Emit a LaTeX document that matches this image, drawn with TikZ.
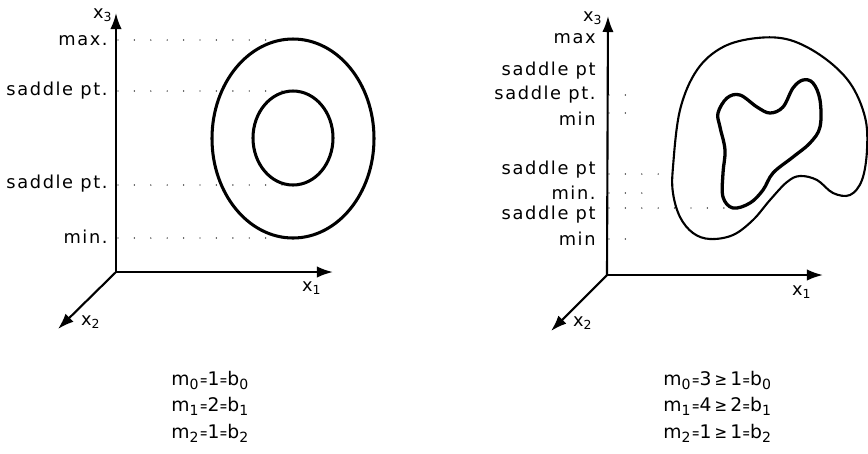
\documentclass[tikz,border=0pt]{standalone}
\usepackage{fontspec}
\setmainfont{DejaVu Sans}[LetterSpace=9]
\newfontfamily\eqfont{DejaVu Sans}[LetterSpace=-2]
\newcommand{\smeq}{\scalebox{0.5}[0.8]{=}}
\newcommand{\smge}{\scalebox{0.8}[0.9]{≥}}
\usetikzlibrary{arrows.meta, positioning}
\tikzset{
  every picture/.style={font=\fontsize{7.6}{9}\selectfont, line width=0.9pt},
  axis/.style={-{Latex[length=2.4mm, width=1.7mm]}, line width=0.9pt},
  lvl/.style={anchor=east, inner sep=1pt},
  contour/.style={line width=#1},
  contour/.default=1.3pt,
  guide/.style={line width=0.6pt, line cap=round, dash pattern=on 0pt off 7pt},
  eqn/.style={anchor=west, inner sep=1pt, font=\eqfont\fontsize{8}{9}\selectfont},
}
\begin{document}
\begin{tikzpicture}[x=0.015cm, y=-0.015cm]
  \useasboundingbox (0,0) rectangle (868,453);
  % left: torus standing on its rim
  \coordinate (O1) at (116,272);
  \coordinate (A1) at (333,272);
  \coordinate (A2) at (58,329);
  \coordinate (A3) at (116,13);
  \draw[axis] (O1) -- (A1);
  \draw[axis] (O1) -- (A2);
  \draw[axis] (O1) -- (A3);
  \node (x1L) at (312,288) {x\textsubscript{1}};
  \node (x2L) at (91,322) {x\textsubscript{2}};
  \node (x3L) at (103,15) {x\textsubscript{3}};
  \foreach \y/\t [count=\i] in {41/max., 91/saddle pt., 184/saddle pt., 237/min.}
    \node[lvl] (lL\i) at (111,\y) {\t};
  \draw[contour] (293,138.5) ellipse [x radius=81, y radius=99.5];
  \draw[contour] (293,138) ellipse [x radius=40, y radius=47];
  \foreach \y in {40,91,185,238}
    \draw[guide] (118,\y) -- (293,\y);
  \node[eqn] (mL0) at (168,380) {m\textsubscript{0}\smeq1\smeq b\textsubscript{0}};
  \node[eqn] (mL1) at (168,406) {m\textsubscript{1}\smeq2\smeq b\textsubscript{1}};
  \node[eqn] (mL2) at (168,433) {m\textsubscript{2}\smeq1\smeq b\textsubscript{2}};
  % right: deformed torus
  \coordinate (O2) at (607,275);
  \coordinate (B1) at (823,275);
  \coordinate (B2) at (551,331);
  \coordinate (B3) at (608,16);
  \draw[axis] (O2) -- (B1);
  \draw[axis] (O2) -- (B2);
  \draw[axis] (O2) -- (B3);
  \node (x1R) at (802,292) {x\textsubscript{1}};
  \node (x2R) at (583,323) {x\textsubscript{2}};
  \node (x3R) at (593,18) {x\textsubscript{3}};
  \foreach \y/\t [count=\i] in {39/max, 71/saddle pt, 95/saddle pt., 119/min,
                                170/saddle pt, 193/min., 215/saddle pt, 239/min}
    \node[lvl] (lR\i) at (599,\y) {\t};
  \draw[contour=0.9pt] plot[smooth cycle, tension=0.6] coordinates {
    (673,167) (680,110) (697,70) (723,47) (757,38) (790,40) (823,57) (850,83)
    (865,117) (867,150) (862,180) (850,195) (833,193) (817,180) (800,176)
    (787,182) (770,200) (753,220) (733,235) (710,239) (693,233) (680,217) (673,193)};
  \draw[contour=1.4pt] plot[smooth cycle, tension=0.6] coordinates {
    (718,113) (727,98) (740,95) (757,107) (770,113) (783,107) (793,88) (803,80)
    (813,83) (820,100) (820,127) (810,143) (793,157) (773,173) (763,190)
    (750,203) (733,208) (723,197) (723,173) (725,150) (720,127)};
  \draw[guide] (609,95) -- (640,95);
  \draw[guide] (609,113) -- (640,113);
  \draw[guide] (609,174) -- (673,174);
  \draw[guide] (609,193) -- (650,193);
  \draw[guide] (609,208) -- (733,208);
  \draw[guide] (609,239) -- (627,239);
  \node[eqn] (mR0) at (660,380) {m\textsubscript{0}\smeq3\,\smge\,1\smeq b\textsubscript{0}};
  \node[eqn] (mR1) at (660,406) {m\textsubscript{1}\smeq4\,\smge\,2\smeq b\textsubscript{1}};
  \node[eqn] (mR2) at (660,433) {m\textsubscript{2}\smeq1\,\smge\,1\smeq b\textsubscript{2}};
\end{tikzpicture}
\end{document}
